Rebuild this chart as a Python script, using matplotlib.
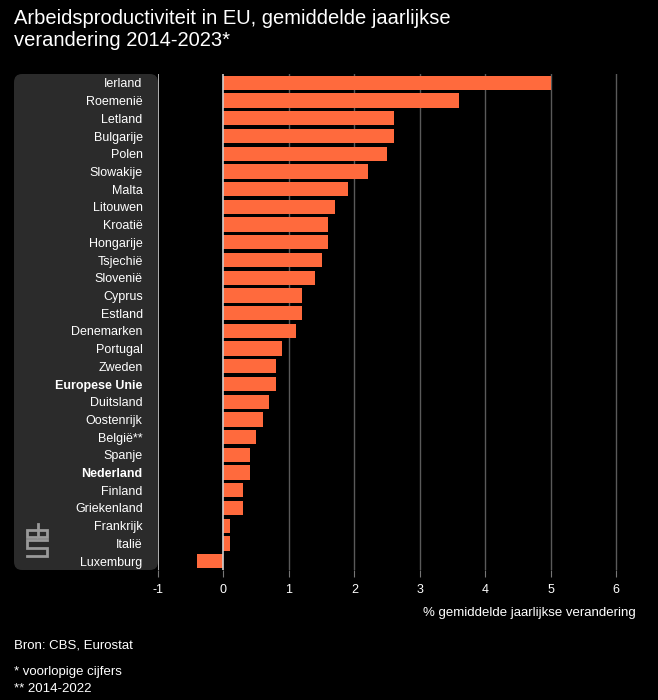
import matplotlib.pyplot as plt
from matplotlib.patches import FancyBboxPatch
from matplotlib.lines import Line2D

# data
countries = ["Ierland", "Roemenië", "Letland", "Bulgarije", "Polen", "Slowakije",
             "Malta", "Litouwen", "Kroatië", "Hongarije", "Tsjechië", "Slovenië",
             "Cyprus", "Estland", "Denemarken", "Portugal", "Zweden", "Europese Unie",
             "Duitsland", "Oostenrijk", "België**", "Spanje", "Nederland", "Finland",
             "Griekenland", "Frankrijk", "Italië", "Luxemburg"]
values = [5.0, 3.6, 2.6, 2.6, 2.5, 2.2, 1.9, 1.7, 1.6, 1.6, 1.5, 1.4, 1.2, 1.2,
          1.1, 0.9, 0.8, 0.8, 0.7, 0.6, 0.5, 0.4, 0.4, 0.3, 0.3, 0.1, 0.1, -0.4]
bold_labels = ["Europese Unie", "Nederland"]
xticks = [-1, 0, 1, 2, 3, 4, 5, 6]

plt.rcParams['font.family'] = ['Liberation Sans', 'DejaVu Sans']

W, H = 658, 700
fig = plt.figure(figsize=(W / 100, H / 100), dpi=100, facecolor="black")

# grey label panel
panel = FancyBboxPatch((14 / W, 1 - 570 / H), (158 - 14) / W, (570 - 74) / H,
                       boxstyle="round,pad=0,rounding_size=0.012",
                       transform=fig.transFigure, facecolor="#2b2b2b",
                       edgecolor="none", zorder=-5)
fig.patches.append(panel)

ax = fig.add_axes([158 / W, 1 - 570 / H, (636 - 158) / W, (570 - 74) / H])
ax.set_zorder(2)
ax.set_facecolor("black")
ax.patch.set_alpha(0)

y = list(range(len(countries)))
ax.barh(y, values, height=0.8, color="#ff6a3d", zorder=3)
ax.set_xlim(-1, 6.3)
ax.set_ylim(len(countries) - 0.5, -0.5)

for t in xticks:
    if t in (-1, 0):
        ax.axvline(t, color="#d0d0d0", lw=1.2, zorder=4 if t == 0 else 2)
    else:
        ax.axvline(t, color="#5a5a5a", lw=1, zorder=1)

for s in ax.spines.values():
    s.set_visible(False)

ax.set_xticks(xticks)
ax.set_xticklabels([str(t) for t in xticks], color="white", fontsize=9)
ax.tick_params(axis="x", length=5, color="#777777", pad=5)
ax.set_yticks(y)
ax.set_yticklabels(countries, color="white", fontsize=9)
ax.tick_params(axis="y", length=0, pad=11)
for lab in ax.get_yticklabels():
    if lab.get_text() in bold_labels:
        lab.set_fontweight("bold")

ax.set_xlabel("% gemiddelde jaarlijkse verandering", color="white", fontsize=9.5)
ax.xaxis.set_label_coords(1.0, -0.075)
ax.xaxis.label.set_horizontalalignment("right")

# small cbs-like logo
logo = [
    [(36, 530), (27, 530), (27, 537), (36, 537)],
    [(38, 524), (38, 537), (47, 537), (47, 530), (38, 530)],
    [(47, 540), (27, 540), (27, 548), (47, 548), (47, 556), (27, 556)],
]
for path in logo:
    xs = [p[0] / W for p in path]
    ys = [1 - p[1] / H for p in path]
    fig.add_artist(Line2D(xs, ys, transform=fig.transFigure, color="#9a9a9a",
                          lw=2, solid_joinstyle="miter", zorder=1))

fig.text(14 / W, 1 - 19 / H, "Arbeidsproductiviteit in EU, gemiddelde jaarlijkse",
         color="white", fontsize=14.5, va="center", ha="left")
fig.text(14 / W, 1 - 41 / H, "verandering 2014-2023*",
         color="white", fontsize=14.5, va="center", ha="left")
fig.text(14 / W, 1 - 645 / H, "Bron: CBS, Eurostat", color="white", fontsize=9.5, va="center")
fig.text(14 / W, 1 - 672 / H, "* voorlopige cijfers", color="white", fontsize=9.5, va="center")
fig.text(14 / W, 1 - 689 / H, "** 2014-2022", color="white", fontsize=9.5, va="center")

fig.savefig("out.png", dpi=100, facecolor="black")
